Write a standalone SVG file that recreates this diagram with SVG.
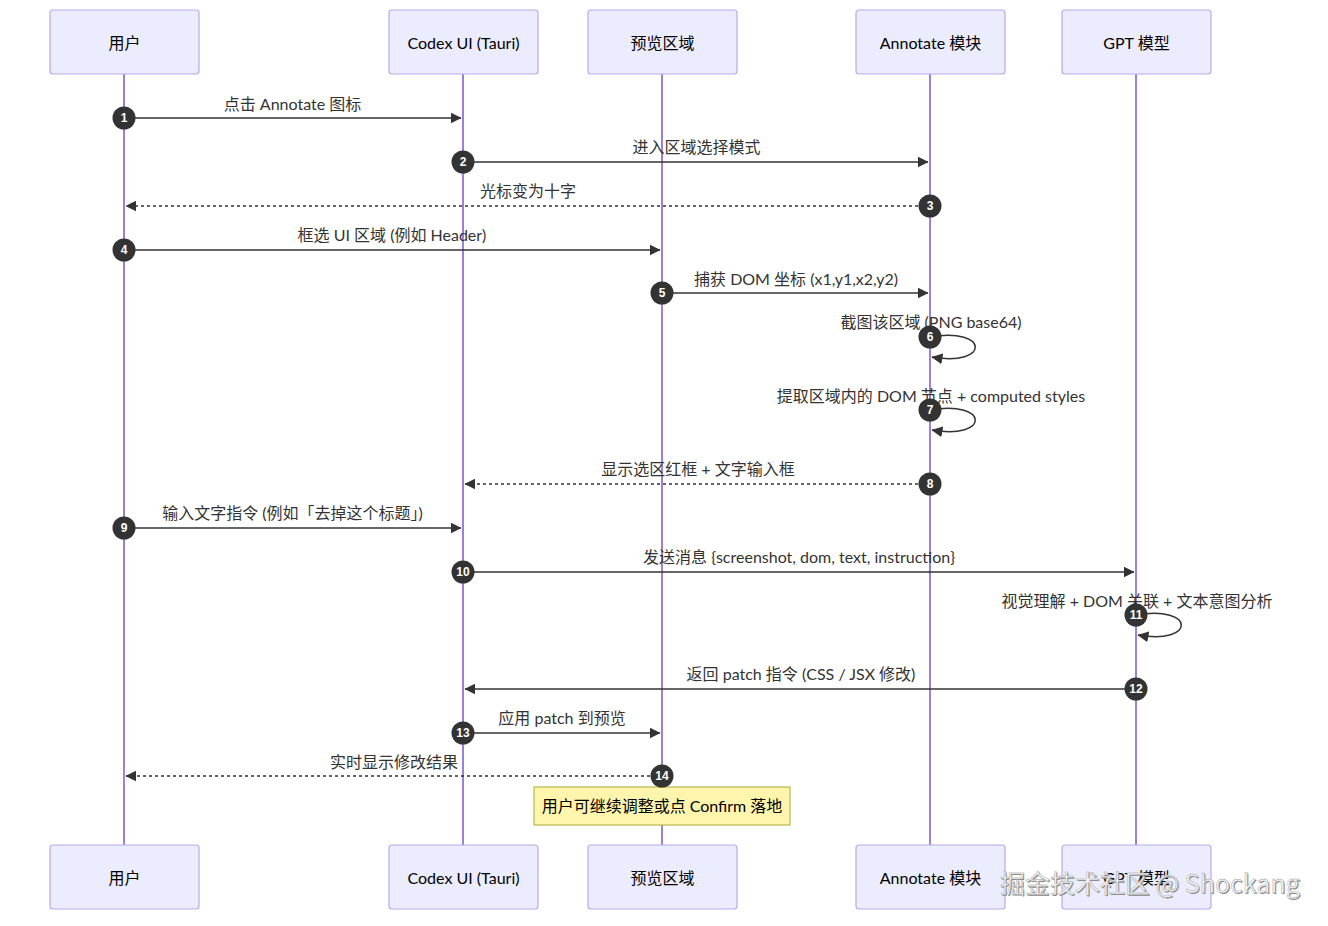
<svg xmlns="http://www.w3.org/2000/svg" width="1328" height="926" viewBox="0 0 1328 926">
<style>
.actor rect{fill:#ECECFF;stroke:#b9a8ee;stroke-width:1.2}
.actor text{font-family:Lato,"Noto Sans CJK SC",sans-serif;font-size:16px;fill:#000;text-anchor:middle;dominant-baseline:central}
.life{stroke:#9a82dc;stroke-width:2}
.msg{stroke:#333;stroke-width:1.5;fill:none}
.dash{stroke-dasharray:3,3}
.lbl{font-family:Lato,"Noto Sans CJK SC",sans-serif;font-size:16px;fill:#333;text-anchor:middle;dominant-baseline:central}
.seq circle{fill:#333}
.seq text{font-family:"Liberation Sans",Arial,sans-serif;font-size:12px;font-weight:bold;fill:#fff;text-anchor:middle;dominant-baseline:central}
.wm{font-family:"Noto Sans CJK SC",sans-serif;font-size:25px}
</style>
<defs>
<marker id="arr" viewBox="0 0 10 10" refX="9.5" refY="5" markerWidth="11" markerHeight="11" markerUnits="userSpaceOnUse" orient="auto">
<path d="M0,0 L10,5 L0,10 z" fill="#333"/>
</marker>
</defs>
<rect width="1328" height="926" fill="#fff"/>
<g id="lifelines">
<line class="life" x1="124" y1="74" x2="124" y2="845"/>
<line class="life" x1="463" y1="74" x2="463" y2="845"/>
<line class="life" x1="662" y1="74" x2="662" y2="845"/>
<line class="life" x1="930" y1="74" x2="930" y2="845"/>
<line class="life" x1="1136" y1="74" x2="1136" y2="845"/>
</g>
<g id="actor-user-top" class="actor"><rect x="50" y="10" width="149" height="64" rx="3"/><text x="124.5" y="42">用户</text></g>
<g id="actor-codex-top" class="actor"><rect x="389" y="10" width="149" height="64" rx="3"/><text x="463.5" y="42">Codex UI (Tauri)</text></g>
<g id="actor-preview-top" class="actor"><rect x="588" y="10" width="149" height="64" rx="3"/><text x="662.5" y="42">预览区域</text></g>
<g id="actor-annotate-top" class="actor"><rect x="856" y="10" width="149" height="64" rx="3"/><text x="930.5" y="42">Annotate 模块</text></g>
<g id="actor-gpt-top" class="actor"><rect x="1062" y="10" width="149" height="64" rx="3"/><text x="1136.5" y="42">GPT 模型</text></g>
<g id="actor-user-bottom" class="actor"><rect x="50" y="845" width="149" height="64" rx="3"/><text x="124.5" y="877">用户</text></g>
<g id="actor-codex-bottom" class="actor"><rect x="389" y="845" width="149" height="64" rx="3"/><text x="463.5" y="877">Codex UI (Tauri)</text></g>
<g id="actor-preview-bottom" class="actor"><rect x="588" y="845" width="149" height="64" rx="3"/><text x="662.5" y="877">预览区域</text></g>
<g id="actor-annotate-bottom" class="actor"><rect x="856" y="845" width="149" height="64" rx="3"/><text x="930.5" y="877">Annotate 模块</text></g>
<g id="actor-gpt-bottom" class="actor"><rect x="1062" y="845" width="149" height="64" rx="3"/><text x="1136.5" y="877">GPT 模型</text></g>
<g id="connectors">
<line class="msg" x1="124" y1="118" x2="461" y2="118" marker-end="url(#arr)"/>
<line class="msg" x1="463" y1="162" x2="928" y2="162" marker-end="url(#arr)"/>
<line class="msg dash" x1="930" y1="206" x2="126" y2="206" marker-end="url(#arr)"/>
<line class="msg" x1="124" y1="250" x2="660" y2="250" marker-end="url(#arr)"/>
<line class="msg" x1="662" y1="293" x2="928" y2="293" marker-end="url(#arr)"/>
<path class="msg" d="M930,337 C990,327 990,367 932,357" marker-end="url(#arr)"/>
<path class="msg" d="M930,410 C990,400 990,440 932,430" marker-end="url(#arr)"/>
<line class="msg dash" x1="930" y1="484" x2="465" y2="484" marker-end="url(#arr)"/>
<line class="msg" x1="124" y1="528" x2="461" y2="528" marker-end="url(#arr)"/>
<line class="msg" x1="463" y1="572" x2="1134" y2="572" marker-end="url(#arr)"/>
<path class="msg" d="M1136,615 C1196,605 1196,645 1138,635" marker-end="url(#arr)"/>
<line class="msg" x1="1136" y1="689" x2="465" y2="689" marker-end="url(#arr)"/>
<line class="msg" x1="463" y1="733" x2="660" y2="733" marker-end="url(#arr)"/>
<line class="msg dash" x1="662" y1="776" x2="126" y2="776" marker-end="url(#arr)"/>
</g>
<g id="labels">
<text class="lbl" x="292.5" y="103.5">点击 Annotate 图标</text>
<text class="lbl" x="696.5" y="146.5">进入区域选择模式</text>
<text class="lbl" x="528" y="190.5">光标变为十字</text>
<text class="lbl" x="392" y="234.5">框选 UI 区域 (例如 Header)</text>
<text class="lbl" x="796" y="278.5">捕获 DOM 坐标 (x1,y1,x2,y2)</text>
<text class="lbl" x="931" y="321.5">截图该区域 (PNG base64)</text>
<text class="lbl" x="931" y="395.5">提取区域内的 DOM 节点 + computed styles</text>
<text class="lbl" x="698" y="468.5">显示选区红框 + 文字输入框</text>
<text class="lbl" x="292.5" y="512.5">输入文字指令 (例如「去掉这个标题」)</text>
<text class="lbl" x="799" y="556.5">发送消息 {screenshot, dom, text, instruction}</text>
<text class="lbl" x="1137" y="600.5">视觉理解 + DOM 关联 + 文本意图分析</text>
<text class="lbl" x="801" y="673.5">返回 patch 指令 (CSS / JSX 修改)</text>
<text class="lbl" x="562" y="717.5">应用 patch 到预览</text>
<text class="lbl" x="394" y="761.5">实时显示修改结果</text>
</g>
<g id="note">
<rect x="534" y="787" width="256" height="38" fill="#fff5ad" stroke="#aaaa33" stroke-width="1"/>
<text class="lbl" x="662" y="805" style="fill:#000">用户可继续调整或点 Confirm 落地</text>
</g>
<g id="sequence-numbers" class="seq">
<circle cx="124" cy="118" r="11.5"/><text x="124" y="118">1</text>
<circle cx="463" cy="162" r="11.5"/><text x="463" y="162">2</text>
<circle cx="930" cy="206" r="11.5"/><text x="930" y="206">3</text>
<circle cx="124" cy="250" r="11.5"/><text x="124" y="250">4</text>
<circle cx="662" cy="293" r="11.5"/><text x="662" y="293">5</text>
<circle cx="930" cy="337" r="11.5"/><text x="930" y="337">6</text>
<circle cx="930" cy="410" r="11.5"/><text x="930" y="410">7</text>
<circle cx="930" cy="484" r="11.5"/><text x="930" y="484">8</text>
<circle cx="124" cy="528" r="11.5"/><text x="124" y="528">9</text>
<circle cx="463" cy="572" r="11.5"/><text x="463" y="572">10</text>
<circle cx="1136" cy="615" r="11.5"/><text x="1136" y="615">11</text>
<circle cx="1136" cy="689" r="11.5"/><text x="1136" y="689">12</text>
<circle cx="463" cy="733" r="11.5"/><text x="463" y="733">13</text>
<circle cx="662" cy="776" r="11.5"/><text x="662" y="776">14</text>
</g>
<g id="watermark">
<text class="wm" x="1001" y="894" fill="#888">掘金技术社区 @ Shockang</text>
<text class="wm" x="1000" y="893" fill="#f2f2f2" stroke="#9a9a9a" stroke-width="0.4">掘金技术社区 @ Shockang</text>
</g>
</svg>
